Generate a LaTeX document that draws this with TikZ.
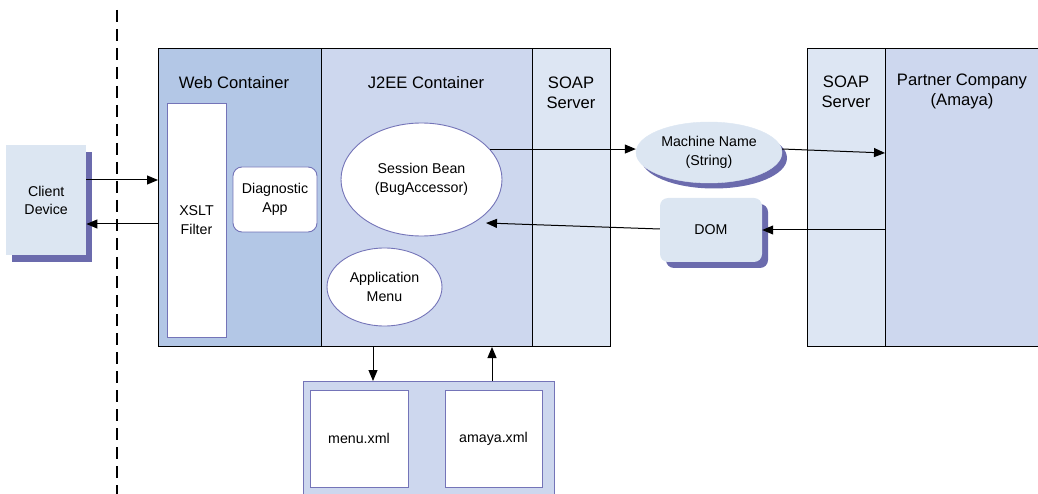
\documentclass[tikz,border=0pt]{standalone}
\usepackage{fontspec}
\setmainfont{Liberation Sans}
\usetikzlibrary{shapes.geometric,arrows.meta}
\definecolor{webc}{HTML}{B3C7E6}
\definecolor{jeec}{HTML}{CDD7EE}
\definecolor{soapc}{HTML}{DDE6F3}
\definecolor{lightc}{HTML}{DCE6F2}
\definecolor{shadowc}{HTML}{6B6BAD}
\definecolor{edgec}{HTML}{7474B8}
\begin{document}
\begin{tikzpicture}[x=1pt,y=-1pt,
  box/.style={draw=black, line width=1pt, anchor=north west, inner sep=0pt},
  inner/.style={draw=edgec, line width=0.9pt, fill=white, inner sep=0pt},
  big/.style={font=\fontsize{16.6}{20}\selectfont, align=center, inner sep=0pt},
  small/.style={font=\fontsize{14.2}{18.5}\selectfont, align=center},
  arr/.style={draw=black, line width=1pt, -{Triangle[length=11pt,width=9pt]}}
]
\useasboundingbox (0,0) rectangle (1038,494);
\clip (0,0) rectangle (1038,494);

% dashed boundary
\draw[line width=1.8pt, dash pattern=on 12pt off 7pt] (117,10) -- (117,494);

% client device with shadow
\fill[shadowc] (12,152) rectangle (92,262);
\node[inner sep=0pt, fill=lightc, minimum width=80pt, minimum height=110pt, anchor=north west,
      font=\fontsize{14.2}{17.5}\selectfont, align=center] (client) at (6,145) {Client\\Device};

% main container
\node[box, fill=webc, minimum width=163pt, minimum height=298pt] (web) at (158,48) {};
\node[box, fill=jeec, minimum width=211pt, minimum height=298pt] (j2ee) at (321,48) {};
\node[box, fill=soapc, minimum width=78pt, minimum height=298pt] (soap) at (532,48) {};
\node[big] (weblbl) at (234,83) {Web Container};
\node[big] (j2eelbl) at (426,83) {J2EE Container};
\node[big] (soaplbl) at (571,93) {SOAP\\Server};

% partner side
\node[box, fill=soapc, minimum width=78pt, minimum height=298pt] (soap2) at (807,48) {};
\node[box, fill=jeec, minimum width=170pt, minimum height=298pt] (partner) at (885,48) {};
\node[big] (soap2lbl) at (846,92) {SOAP\\Server};
\node[big] (partnerlbl) at (962,91.5) {Partner Company\\(Amaya)};

% web container contents
\node[inner, minimum width=59pt, minimum height=234pt, small] (xslt) at (196.5,220) {XSLT\\Filter};
\node[inner, rounded corners=9pt, minimum width=84pt, minimum height=65pt, small] (diag) at (275,199.5) {Diagnostic\\App};

% j2ee contents
\node[inner, ellipse, minimum width=161pt, minimum height=113pt, small] (bean) at (421.5,179.5) {Session Bean\\(BugAccessor)};
\node[inner, ellipse, minimum width=115pt, minimum height=78pt, small] (menu) at (384.5,287) {Application\\Menu};
\coordinate (beanin) at (486,223);

% machine name with shadow
\fill[shadowc] (714,158) ellipse [x radius=73pt, y radius=30.5pt];
\node[draw=lightc, fill=lightc, ellipse, inner sep=0pt, minimum width=146pt, minimum height=61pt, small] (machine) at (709,152.5) {Machine Name\\(String)};

% DOM with shadow
\fill[shadowc, rounded corners=8pt] (666,204) rectangle (768,268);
\node[fill=lightc, rounded corners=8pt, inner sep=0pt, minimum width=102pt, minimum height=64pt, small] (dom) at (711,230) {DOM};

% files
\node[draw=edgec, line width=0.9pt, fill=jeec, anchor=north west, inner sep=0pt, minimum width=251pt, minimum height=130pt] (files) at (303,381) {};
\node[inner, minimum width=98pt, minimum height=97pt, small] (menuxml) at (359,438.5) {menu.xml};
\node[inner, minimum width=97pt, minimum height=97pt, small] (amayaxml) at (493.5,438.5) {amaya.xml};

% connectors
\draw[arr] (client.east |- 0,180) -- (web.west |- 0,180);
\draw[arr] (web.west |- 0,224) -- (client.east |- 0,224);
\draw[arr] (bean.24) -- (bean.24 -| machine.west);
\draw[arr] (machine.east |- 0,149) -- (partner.west |- 0,153);
\draw[arr] (partner.west |- 0,230) -- (dom.east |- 0,230);
\draw[arr] (dom.west |- 0,229) -- (beanin);
\draw[arr] (j2ee.south -| 373,0) -- (files.north -| 373,0);
\draw[arr] (files.north -| 492,0) -- (j2ee.south -| 492,0);
\end{tikzpicture}
\end{document}
